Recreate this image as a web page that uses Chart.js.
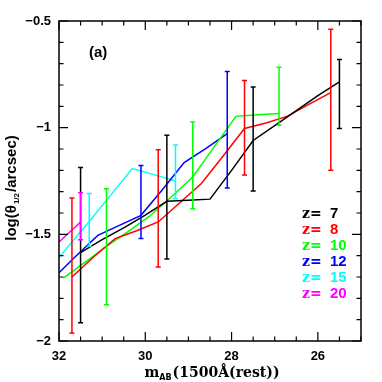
<!DOCTYPE html>
<html>
<head>
<meta charset="utf-8">
<script src="https://cdn.jsdelivr.net/npm/chart.js@4.4.1/dist/chart.umd.min.js"></script>
<style>
    html, body { margin: 0; padding: 0; background: #fff; }
    #wrap { width: 382px; height: 382px; position: relative; }
</style>
</head>
<body>
<div id="wrap"><canvas id="chart"></canvas></div>
<script>
// ── Median size vs magnitude, one line per redshift ──
const magZ7 = [31.5, 31, 30.5, 30, 29.5, 29, 28.5, 28, 27.5, 27, 26.5, 26, 25.5];
const logZ7 = [-1.586, -1.525, -1.47, -1.41, -1.345, -1.34, -1.335, -1.2, -1.06, -0.99, -0.92, -0.85, -0.785];

const magZ8 = [31.7, 31.2, 30.7, 30.2, 29.7, 29.2, 28.7, 28.2, 27.7, 27.2, 26.7, 26.2, 25.7];
const logZ8 = [-1.70, -1.606, -1.52, -1.483, -1.442, -1.352, -1.262, -1.134, -1.004, -0.978, -0.946, -0.89, -0.836];

const magZ10 = [31.9, 31.4, 30.9, 30.4, 29.9, 29.4, 28.9, 28.4, 27.9, 27.4, 26.9];
const logZ10 = [-1.705, -1.631, -1.556, -1.487, -1.415, -1.325, -1.231, -1.089, -0.947, -0.94, -0.934];

const magZ12 = [32.1, 31.6, 31.1, 30.6, 30.1, 29.6, 29.1, 28.6, 28.1];
const logZ12 = [-1.70, -1.60, -1.505, -1.458, -1.411, -1.29, -1.164, -1.098, -1.028];

const magZ15 = [32.3, 31.8, 31.3, 30.8, 30.3, 29.8, 29.3];
const logZ15 = [-1.68, -1.56, -1.44, -1.315, -1.192, -1.22, -1.25];

const magZ20 = [32.0, 31.5];
const logZ20 = [-1.536, -1.442];

// ── Error bars (magnitude, lower, upper) ──
const errMagZ7 = [31.5, 29.5, 27.5, 25.5];
const errLoZ7 = [-1.915, -1.616, -1.297, -1.004];
const errHiZ7 = [-1.187, -1.036, -0.809, -0.681];

const errMagZ8 = [31.7, 29.7, 27.7, 25.7];
const errLoZ8 = [-1.963, -1.653, -1.222, -1.2];
const errHiZ8 = [-1.33, -1.103, -0.779, -0.539];

const errMagZ10 = [30.9, 28.9, 26.9];
const errLoZ10 = [-1.83, -1.38, -0.989];
const errHiZ10 = [-1.286, -0.973, -0.717];

const errMagZ12 = [30.1, 28.1];
const errLoZ12 = [-1.519, -1.283];
const errHiZ12 = [-1.177, -0.737];

const errMagZ15 = [31.3, 29.3];
const errLoZ15 = [-1.556, -1.333];
const errHiZ15 = [-1.309, -1.081];

const errMagZ20 = [31.5];
const errLoZ20 = [-1.525];
const errHiZ20 = [-1.305];

// ── Labels / ticks ──
const redshifts = ['7', '8', '10', '12', '15', '20'];
const colors = ['#000000', '#ff0000', '#00ff00', '#0000ff', '#00ffff', '#ff00ff'];
const xTickLabels = [32, 30, 28, 26];
const yTickLabels = [-0.5, -1, -1.5, -2];

const lineMags = [magZ7, magZ8, magZ10, magZ12, magZ15, magZ20];
const lineLogs = [logZ7, logZ8, logZ10, logZ12, logZ15, logZ20];
const errBars = [
    [errMagZ7, errLoZ7, errHiZ7],
    [errMagZ8, errLoZ8, errHiZ8],
    [errMagZ10, errLoZ10, errHiZ10],
    [errMagZ12, errLoZ12, errHiZ12],
    [errMagZ15, errLoZ15, errHiZ15],
    [errMagZ20, errLoZ20, errHiZ20],
];

function toPoints(xs, ys) {
    return xs.map(function (x, i) { return { x: x, y: ys[i] }; });
}

const datasets = lineMags.map(function (mags, i) {
    return {
        label: 'z= ' + redshifts[i],
        data: toPoints(mags, lineLogs[i]),
        borderColor: colors[i],
        borderWidth: 1.5,
        pointRadius: 0,
        tension: 0,
        fill: false,
    };
});

// ── Error bars, frame, inward ticks, titles, legend ──
const framePlugin = {
    id: 'frame',
    afterDatasetsDraw: function (chart) {
        const ctx = chart.ctx;
        const xs = chart.scales.x;
        const ys = chart.scales.y;
        const a = chart.chartArea;

        ctx.save();
        ctx.lineWidth = 1.5;
        errBars.forEach(function (eb, i) {
            ctx.strokeStyle = colors[i];
            eb[0].forEach(function (m, j) {
                const px = xs.getPixelForValue(m);
                const lo = ys.getPixelForValue(eb[1][j]);
                const hi = ys.getPixelForValue(eb[2][j]);
                ctx.beginPath();
                ctx.moveTo(px, lo); ctx.lineTo(px, hi);
                ctx.moveTo(px - 2.5, lo); ctx.lineTo(px + 2.5, lo);
                ctx.moveTo(px - 2.5, hi); ctx.lineTo(px + 2.5, hi);
                ctx.stroke();
            });
        });

        // frame
        ctx.strokeStyle = '#000';
        ctx.lineWidth = 1.5;
        ctx.strokeRect(a.left, a.top, a.right - a.left, a.bottom - a.top);

        // x ticks every 0.5, major every 2
        ctx.lineWidth = 1.2;
        ctx.beginPath();
        for (let k = 0; k <= 14; k++) {
            const m = 25 + k * 0.5;
            const px = xs.getPixelForValue(m);
            const len = (m % 2 === 0) ? 9 : 4.5;
            ctx.moveTo(px, a.bottom); ctx.lineTo(px, a.bottom - len);
            ctx.moveTo(px, a.top); ctx.lineTo(px, a.top + len);
        }
        // y ticks every 0.1, major every 0.5
        for (let k = 0; k <= 15; k++) {
            const v = -2 + k * 0.1;
            const py = ys.getPixelForValue(v);
            const len = (k % 5 === 0) ? 9 : 4.5;
            ctx.moveTo(a.left, py); ctx.lineTo(a.left + len, py);
            ctx.moveTo(a.right, py); ctx.lineTo(a.right - len, py);
        }
        ctx.stroke();

        // tick labels
        ctx.fillStyle = '#000';
        ctx.font = 'bold 13px "Liberation Sans", sans-serif';
        ctx.textBaseline = 'middle';
        ctx.textAlign = 'center';
        xTickLabels.forEach(function (v) {
            ctx.fillText(String(v), xs.getPixelForValue(v), a.bottom + 15);
        });
        ctx.textAlign = 'right';
        yTickLabels.forEach(function (v) {
            ctx.fillText(String(v).replace('-', '\u2212'), a.left - 8, ys.getPixelForValue(v));
        });

        // x title with subscript
        ctx.textBaseline = 'alphabetic';
        ctx.textAlign = 'left';
        const bigX = 'bold 14px "DejaVu Serif", serif';
        const smallX = 'bold 8px "DejaVu Sans", sans-serif';
        ctx.font = bigX;
        const wM = ctx.measureText('m').width;
        const wRest = ctx.measureText('(1500\u00c5(rest))').width;
        ctx.font = smallX;
        const wAB = ctx.measureText('AB').width;
        let tx = 212 - (wM + wAB + 1 + wRest) / 2;
        const tb = 377;
        ctx.font = bigX; ctx.fillText('m', tx, tb); tx += wM;
        ctx.font = smallX; ctx.fillText('AB', tx, tb + 3); tx += wAB + 1;
        ctx.font = bigX; ctx.fillText('(1500\u00c5(rest))', tx, tb);

        // y title, rotated, with subscript
        ctx.save();
        ctx.translate(16, 188);
        ctx.rotate(-Math.PI / 2);
        const bigY = 'bold 15px "Liberation Sans", sans-serif';
        const smallY = 'bold 8px "Liberation Sans", sans-serif';
        ctx.font = bigY;
        const w1 = ctx.measureText('log(\u03b8').width;
        const w3 = ctx.measureText('/arcsec)').width;
        ctx.font = smallY;
        const w2 = ctx.measureText('1/2').width;
        let ty = -(w1 + w2 + 2 + w3) / 2;
        ctx.font = bigY; ctx.fillText('log(\u03b8', ty, 0); ty += w1 + 1;
        ctx.font = smallY; ctx.fillText('1/2', ty, 3); ty += w2 + 1;
        ctx.font = bigY; ctx.fillText('/arcsec)', ty, 0);
        ctx.restore();

        // panel tag
        ctx.font = 'bold 15px "Liberation Sans", sans-serif';
        ctx.textBaseline = 'middle';
        ctx.fillText('(a)', 89, 53);

        // legend: serif "z=", sans numbers
        redshifts.forEach(function (z, i) {
            const y = 214 + i * 16;
            ctx.fillStyle = colors[i];
            ctx.font = 'bold 14px "DejaVu Serif", serif';
            ctx.fillText('z=', 302, y);
            ctx.font = 'bold 15px "Liberation Sans", sans-serif';
            ctx.fillText(z, 330, y);
        });
        ctx.restore();
    }
};

const ctx = document.getElementById('chart').getContext('2d');
new Chart(ctx, {
    type: 'line',
    data: { datasets: datasets },
    options: {
        responsive: true,
        maintainAspectRatio: false,
        animation: false,
        layout: { padding: { left: 59, right: 21, top: 21, bottom: 41 } },
        scales: {
            x: { type: 'linear', min: 25, max: 32, reverse: true, display: false },
            y: { type: 'linear', min: -2, max: -0.5, display: false }
        },
        plugins: {
            legend: { display: false },
            tooltip: { enabled: false }
        }
    },
    plugins: [framePlugin]
});
</script>
</body>
</html>
